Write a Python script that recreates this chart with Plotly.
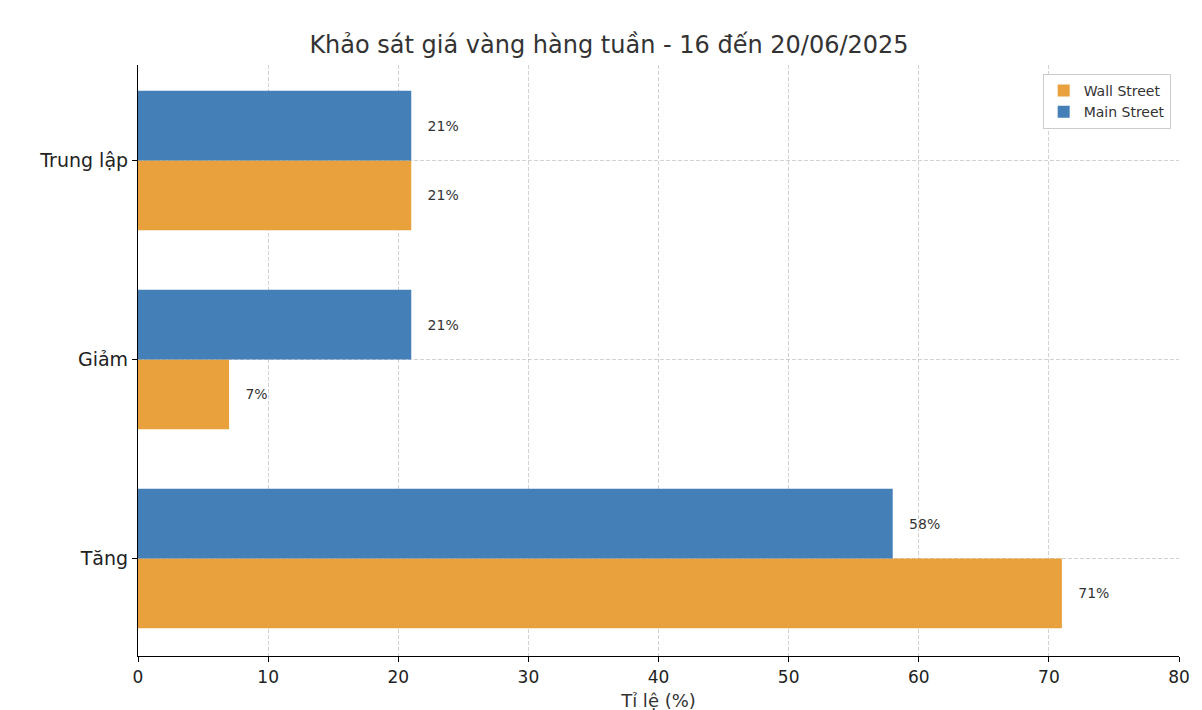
import plotly.graph_objects as go

categories = ["Tăng", "Giảm", "Trung lập"]
wall_street = [71, 7, 21]
main_street = [58, 21, 21]

font = "DejaVu Sans"

fig = go.Figure()
fig.add_trace(go.Bar(
    y=categories, x=wall_street, orientation="h", name="Wall Street",
    marker=dict(color="#e8a13d", line=dict(width=0)),
    text=[f"   {v}%" for v in wall_street], textposition="outside",
    textfont=dict(size=14, color="#333333", family=font), cliponaxis=False,
))
fig.add_trace(go.Bar(
    y=categories, x=main_street, orientation="h", name="Main Street",
    marker=dict(color="#4480b7", line=dict(width=0)),
    text=[f"   {v}%" for v in main_street], textposition="outside",
    textfont=dict(size=14, color="#333333", family=font), cliponaxis=False,
))

fig.update_layout(
    width=1202, height=710,
    barmode="group", bargap=0.3, bargroupgap=0,
    plot_bgcolor="white", paper_bgcolor="white",
    font=dict(family=font, color="#333333"),
    title=dict(text="Khảo sát giá vàng hàng tuần - 16 đến 20/06/2025",
               x=0.5, xanchor="center", y=0.948, yanchor="middle",
               font=dict(size=24, color="#333333", family=font)),
    margin=dict(l=130, r=31, t=57, b=62, autoexpand=False),
    legend=dict(x=0.992, y=0.985, xanchor="right", yanchor="top",
                bordercolor="#cccccc", borderwidth=1, bgcolor="white",
                font=dict(size=14, color="#333333", family=font),
                traceorder="normal"),
)
fig.update_xaxes(
    range=[0, 80], dtick=10, showgrid=True, gridcolor="rgba(180,180,180,0.6)",
    griddash="4px,2px", layer="above traces", automargin=False,
    showline=True, linecolor="black", linewidth=1.2, ticks="outside",
    ticklen=5, tickcolor="black", zeroline=False,
    tickfont=dict(size=17, color="#222222"),
    title=dict(text="Tỉ lệ (%)", font=dict(size=18, color="#333333"), standoff=8),
)
fig.update_yaxes(
    range=[-0.49, 2.48], showgrid=True, gridcolor="rgba(180,180,180,0.6)",
    griddash="4px,2px", layer="above traces", automargin=False,
    showline=True, linecolor="black", linewidth=1.2, ticks="outside",
    ticklen=5, tickcolor="black",
    tickfont=dict(size=19, color="#222222"),
)

fig.write_html("out.html")
